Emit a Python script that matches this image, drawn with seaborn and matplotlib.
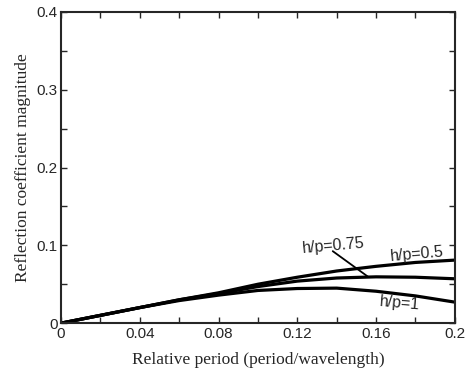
import numpy as np
import matplotlib
matplotlib.use("Agg")
import matplotlib.pyplot as plt
import pandas as pd
import seaborn as sns

# values
period = [0.0, 0.02, 0.04, 0.06, 0.08, 0.10, 0.12, 0.14, 0.16, 0.18, 0.20]
hp_05 = [0.0, 0.010, 0.020, 0.030, 0.039, 0.050, 0.059, 0.067, 0.073, 0.078, 0.081]
hp_075 = [0.0, 0.010, 0.020, 0.030, 0.038, 0.047, 0.054, 0.058, 0.0595, 0.059, 0.057]
hp_1 = [0.0, 0.010, 0.020, 0.029, 0.036, 0.042, 0.0445, 0.045, 0.041, 0.035, 0.027]
series_names = ["h/p=0.5", "h/p=0.75", "h/p=1"]

df = pd.DataFrame({
    "period": period * 3,
    "refl": hp_05 + hp_075 + hp_1,
    "case": [n for n in series_names for _ in period],
})

sns.set_style("ticks")
plt.rcParams["font.family"] = ["Liberation Sans", "DejaVu Sans"]

fig, ax = plt.subplots(figsize=(4.66, 3.71), dpi=100)
fig.subplots_adjust(left=0.131, right=0.976, top=0.968, bottom=0.129)

sns.lineplot(data=df, x="period", y="refl", hue="case", units="case", estimator=None,
             palette=["black"] * 3, linewidth=2.3, legend=False, ax=ax)

ax.set_xlim(0, 0.2)
ax.set_ylim(0, 0.4)
ax.set_xticks(np.arange(0, 0.201, 0.04))
ax.set_xticklabels(["0", "0.04", "0.08", "0.12", "0.16", "0.2"])
ax.set_xticks(np.arange(0, 0.201, 0.02), minor=True)
ax.set_yticks([0, 0.1, 0.2, 0.3, 0.4])
ax.set_yticklabels(["0", "0.1", "0.2", "0.3", "0.4"])
ax.set_yticks(np.arange(0, 0.401, 0.05), minor=True)
ax.tick_params(which="both", direction="in", top=True, right=True, labelsize=11,
               length=4, width=1, pad=2.5)
ax.tick_params(which="minor", length=4)
for s in ax.spines.values():
    s.set_linewidth(1.5)

ax.set_xlabel("Relative period (period/wavelength)", family="Liberation Serif", fontsize=12.5,
              labelpad=8)
ax.set_ylabel("Reflection coefficient magnitude", family="Liberation Serif", fontsize=12.5,
              labelpad=4)

# curve labels, with a leader line for the middle curve
ax.text(0.122, 0.0995, "h/p=0.75", fontsize=11.5, rotation=5, ha="left", va="center")
ax.annotate("", xy=(0.156, 0.0595), xytext=(0.138, 0.0925),
            arrowprops=dict(arrowstyle="-", color="black", lw=1.3, shrinkA=0, shrinkB=0))
ax.text(0.181, 0.0885, "h/p=0.5", fontsize=11.5, rotation=5, ha="center", va="center")
ax.text(0.172, 0.0255, "h/p=1", fontsize=11.5, rotation=-5, ha="center", va="center")

fig.savefig("out.png", dpi=100)
